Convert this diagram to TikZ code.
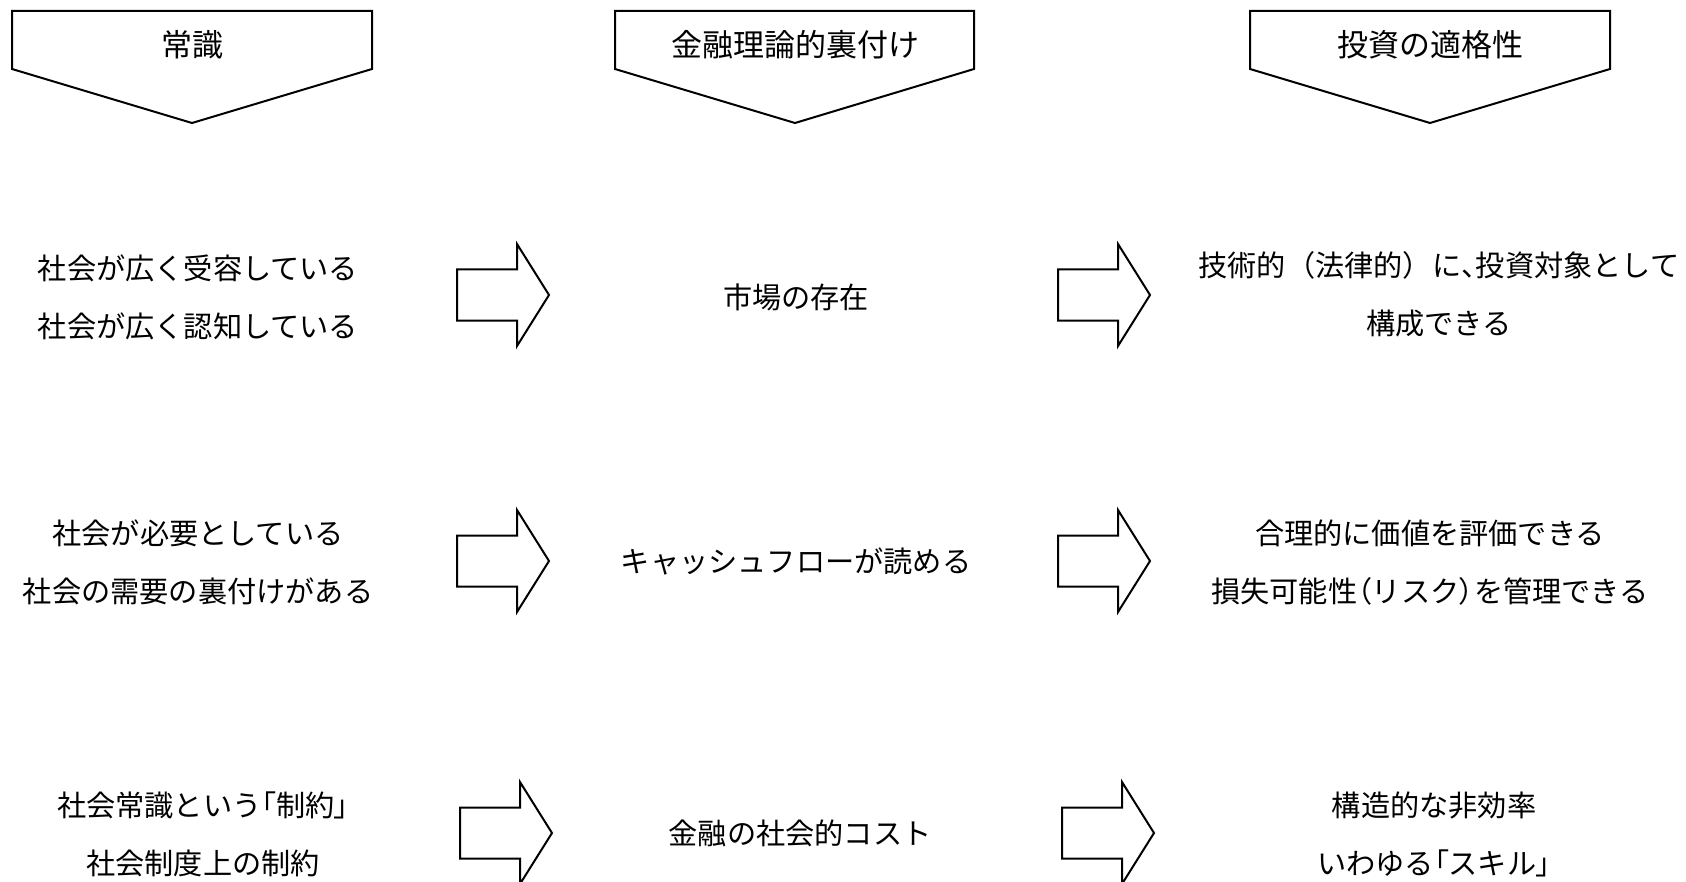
\documentclass[tikz,border=0pt]{standalone}
\usepackage{fontspec}
\setmainfont{Noto Sans CJK JP}
\newfontfamily\narrowcjk{Noto Sans CJK JP}[RawFeature=+palt]
\newcommand\nw[1]{{\narrowcjk #1}}
\begin{document}
\begin{tikzpicture}[x=0.5pt,y=-0.5pt,line join=miter,line width=1pt,
    head/.style={draw},
    headtext/.style={font=\fontsize{15.5}{20}\selectfont},
    txt/.style={align=center,inner sep=0pt,font=\fontsize{14.6}{29}\selectfont},
    blockarrow/.pic={\draw (-46,-25.5) -- (14,-25.5) -- (14,-51) -- (46,0)
        -- (14,51) -- (14,25.5) -- (-46,25.5) -- cycle;}]
    \useasboundingbox (0,0) rectangle (1686,882);
    % headings
    \draw[head] (12,11) -- (372,11) -- (372,69) -- (192,123) -- (12,69) -- cycle;
    \draw[head] (615,11) -- (974,11) -- (974,69) -- (795,123) -- (615,69) -- cycle;
    \draw[head] (1250,11) -- (1610,11) -- (1610,69) -- (1430,123) -- (1250,69) -- cycle;
    \node[headtext] (common) at (192,45) {常識};
    \node[headtext] (theory) at (795,45) {金融理論的裏付け};
    \node[headtext] (fit) at (1430,45) {投資の適格性};
    % rows
    \node[txt] (common1) at (198,297) {社会が広く受容している\\社会が広く認知している};
    \node[txt] (theory1) at (796,297) {市場の存在};
    \node[txt] (fit1) at (1439,294) {技術的（法律的）に\nw{、}投資対象として\\構成できる};
    \node[txt] (common2) at (198,562) {社会が必要としている\\社会の需要の裏付けがある};
    \node[txt] (theory2) at (796,561) {キャッシュフローが読める};
    \node[txt] (fit2) at (1430,563) {合理的に価値を評価できる\\損失可能性\nw{（}リスク\nw{）}を管理できる};
    \node[txt] (common3) at (203,834) {社会常識という\nw{「}制約\nw{」}\\社会制度上の制約};
    \node[txt] (theory3) at (800,833) {金融の社会的コスト};
    \node[txt] (fit3) at (1434,834) {構造的な非効率\\いわゆる\nw{「}スキル\nw{」}};
    % arrows
    \pic at (503,295) {blockarrow};
    \pic at (1104,295) {blockarrow};
    \pic at (503,561) {blockarrow};
    \pic at (1104,561) {blockarrow};
    \pic at (506,833) {blockarrow};
    \pic at (1108,833) {blockarrow};
\end{tikzpicture}
\end{document}
